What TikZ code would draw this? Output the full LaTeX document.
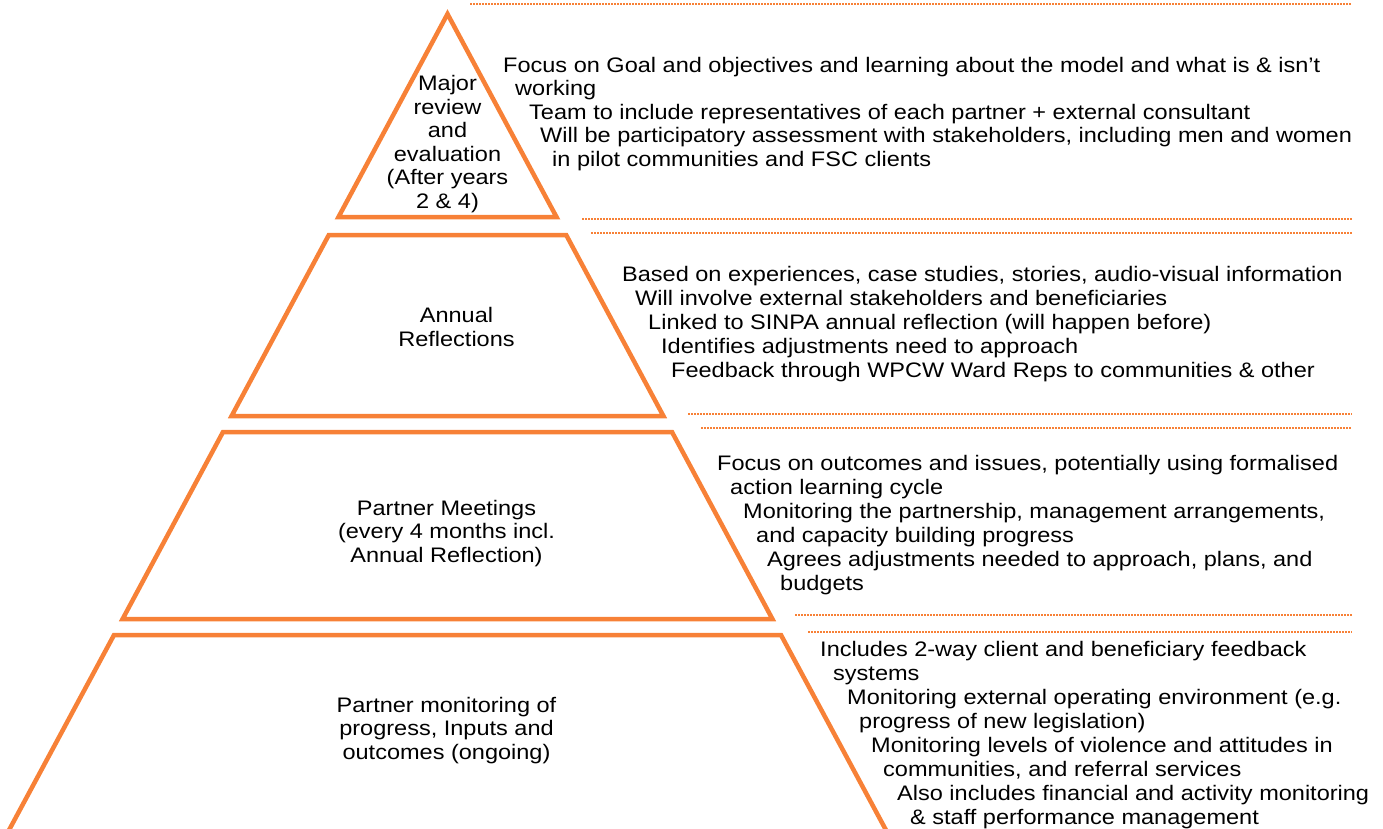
\documentclass[tikz,border=0pt]{standalone}
\usepackage{fontspec}
\setmainfont{Liberation Sans}[FakeStretch=1.12]
\definecolor{orng}{RGB}{247,129,55}
\begin{document}
\begin{tikzpicture}[x=1pt,y=-1pt,
  tier/.style={draw=orng,line width=4.5pt,line join=miter},
  sep/.style={draw=orng,line width=1.6pt,dash pattern=on 1.5pt off 1.5pt},
  txt/.style={inner sep=0pt,anchor=base west,font=\fontsize{21}{24}\selectfont},
  lbl/.style={inner sep=0pt,align=center,anchor=base,font=\fontsize{21}{23.5}\selectfont}]
\useasboundingbox (0,0) rectangle (1383,828);
\clip (0,0) rectangle (1383,828);

% pyramid tiers
\coordinate (t1a) at (447.5,14);
\coordinate (t1l) at (338.5,217);
\coordinate (t1r) at (556.5,217);
\draw[tier] (t1a) -- (t1r) -- (t1l) -- cycle;

\coordinate (t2tl) at (328.8,235);
\coordinate (t2tr) at (566.2,235);
\coordinate (t2br) at (663.4,416);
\coordinate (t2bl) at (231.6,416);
\draw[tier] (t2tl) -- (t2tr) -- (t2br) -- (t2bl) -- cycle;

\coordinate (t3tl) at (223,432);
\coordinate (t3tr) at (672,432);
\coordinate (t3br) at (772.4,619);
\coordinate (t3bl) at (122.6,619);
\draw[tier] (t3tl) -- (t3tr) -- (t3br) -- (t3bl) -- cycle;

\coordinate (t4tl) at (114,635);
\coordinate (t4tr) at (781,635);
\coordinate (t4br) at (894,845);
\coordinate (t4bl) at (1,845);
\draw[tier] (t4bl) -- (t4tl) -- (t4tr) -- (t4br);

% dotted separators
\coordinate (d0a) at (470,4);   \coordinate (d0b) at (1351,4);
\coordinate (d1a) at (582,219); \coordinate (d1b) at (1352,219);
\coordinate (d2a) at (591,233); \coordinate (d2b) at (1352,233);
\coordinate (d3a) at (688,414); \coordinate (d3b) at (1352,414);
\coordinate (d4a) at (701,428); \coordinate (d4b) at (1352,428);
\coordinate (d5a) at (795,615); \coordinate (d5b) at (1352,615);
\coordinate (d6a) at (808,632); \coordinate (d6b) at (1352,632);
\draw[sep] (d0a) -- (d0b);
\draw[sep] (d1a) -- (d1b);
\draw[sep] (d2a) -- (d2b);
\draw[sep] (d3a) -- (d3b);
\draw[sep] (d4a) -- (d4b);
\draw[sep] (d5a) -- (d5b);
\draw[sep] (d6a) -- (d6b);

% tier labels (anchor = baseline of last line)
\node[lbl] (L1) at (447.5,208) {Major\\review\\and\\evaluation\\(After years\\2 \& 4)};
\node[lbl] (L2) at (456.5,346) {Annual\\Reflections};
\node[lbl] (L3) at (446.5,562) {Partner Meetings\\(every 4 months incl.\\Annual Reflection)};
\node[lbl] (L4) at (446.5,759) {Partner monitoring of\\progress, Inputs and\\outcomes (ongoing)};

% block 1
\node[txt] (a1) at (503,72) {Focus on Goal and objectives and learning about the model and what is \& isn’t};
\node[txt] (a2) at (515,95.5) {working};
\node[txt] (a3) at (529,119) {Team to include representatives of each partner + external consultant};
\node[txt] (a4) at (540,142.5) {Will be participatory assessment with stakeholders, including men and women};
\node[txt] (a5) at (552,166) {in pilot communities and FSC clients};

% block 2
\node[txt] (b1) at (622,281) {Based on experiences, case studies, stories, audio-visual information};
\node[txt] (b2) at (635,305) {Will involve external stakeholders and beneficiaries};
\node[txt] (b3) at (648,329) {Linked to SINPA annual reflection (will happen before)};
\node[txt] (b4) at (661,353) {Identifies adjustments need to approach};
\node[txt] (b5) at (671,377) {Feedback through WPCW Ward Reps to communities \& other};

% block 3
\node[txt] (c1) at (717,470) {Focus on outcomes and issues, potentially using formalised};
\node[txt] (c2) at (730,494) {action learning cycle};
\node[txt] (c3) at (743,518) {Monitoring the partnership, management arrangements,};
\node[txt] (c4) at (756,542) {and capacity building progress};
\node[txt] (c5) at (767,566) {Agrees adjustments needed to approach, plans, and};
\node[txt] (c6) at (780,590) {budgets};

% block 4
\node[txt] (e1) at (820,656) {Includes 2-way client and beneficiary feedback};
\node[txt] (e2) at (833,680) {systems};
\node[txt] (e3) at (847,704) {Monitoring external operating environment (e.g.};
\node[txt] (e4) at (859,728) {progress of new legislation)};
\node[txt] (e5) at (871,752) {Monitoring levels of violence and attitudes in};
\node[txt] (e6) at (883,776) {communities, and referral services};
\node[txt] (e7) at (897,800) {Also includes financial and activity monitoring};
\node[txt] (e8) at (910,824) {\& staff performance management};
\end{tikzpicture}
\end{document}
